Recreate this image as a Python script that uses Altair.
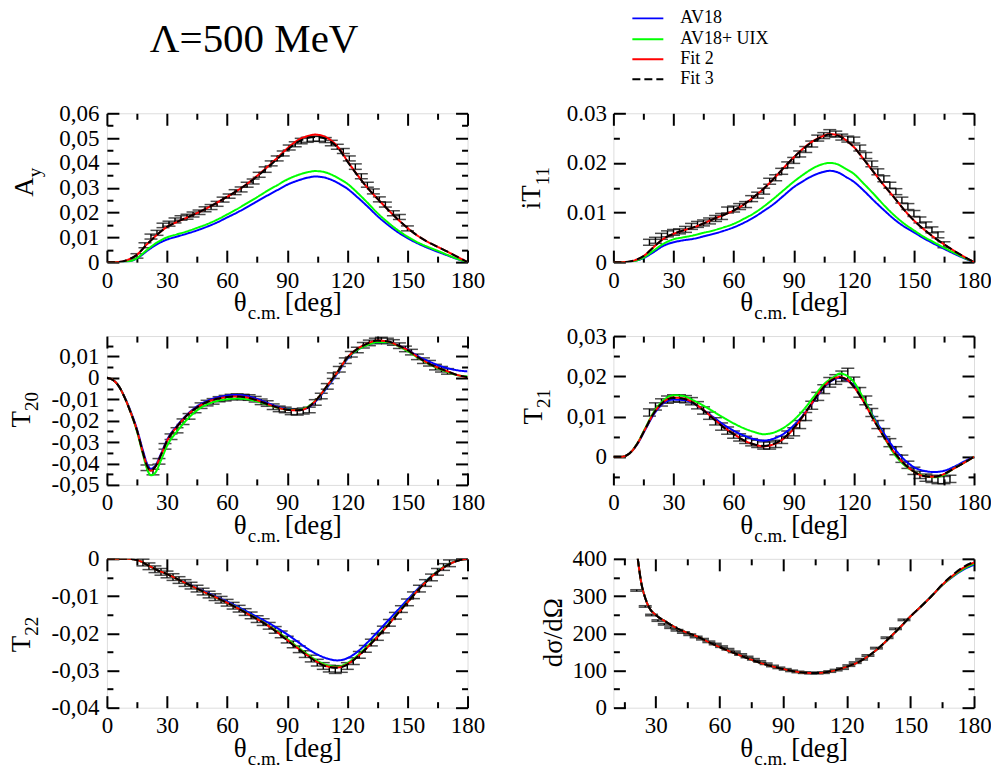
import altair as alt
import pandas as pd

FONT = "Liberation Serif, Times New Roman, Times, serif"
SERIES = ["AV18", "AV18+ UIX", "Fit 2", "Fit 3"]
COLORS = ["#0000ff", "#00ff00", "#ff0000", "#000000"]
DASHES = [[1, 0], [1, 0], [1, 0], [8, 4]]
LEGEND_Y = [-95, -74, -54, -34]
TITLE = "Λ=500 MeV"

# ---------------- A_y ----------------
AY_X = [0, 5, 10, 15, 20, 25, 30, 35, 40, 45, 50, 55, 60, 65, 70, 75, 80, 85, 90, 95,
        100, 104, 108, 112, 116, 120, 125, 130, 135, 140, 145, 150, 155, 160, 165, 170, 175, 180]
AY_AV18 = [0, 0, 0.0002, 0.0015, 0.0045, 0.0072, 0.0091, 0.0103, 0.0115, 0.0128, 0.0143, 0.016, 0.018, 0.02,
           0.0222, 0.0245, 0.0268, 0.029, 0.0312, 0.0328, 0.034, 0.0345, 0.0342, 0.0332, 0.0316, 0.0296, 0.0262,
           0.0225, 0.0186, 0.0152, 0.0122, 0.0097, 0.0076, 0.0058, 0.0042, 0.0027, 0.0012, 0]
AY_UIX = [0, 0, 0.0002, 0.0016, 0.0049, 0.0079, 0.0100, 0.0112, 0.0124, 0.0138, 0.0153, 0.0171, 0.0192, 0.0214,
          0.0238, 0.0262, 0.0287, 0.031, 0.0333, 0.035, 0.0362, 0.0367, 0.0364, 0.0353, 0.0336, 0.0316, 0.0280,
          0.0240, 0.0198, 0.0162, 0.0130, 0.0103, 0.0080, 0.0062, 0.0046, 0.0029, 0.0013, 0]
AY_FIT2 = [0, 0, 0.0008, 0.003, 0.0072, 0.011, 0.0142, 0.0162, 0.018, 0.0198, 0.0218, 0.024, 0.0263, 0.0288,
           0.0316, 0.0348, 0.0383, 0.042, 0.0458, 0.049, 0.0508, 0.0514, 0.0508, 0.049, 0.0457, 0.0408, 0.0352,
           0.0300, 0.0256, 0.0214, 0.0174, 0.0138, 0.0107, 0.0082, 0.0062, 0.0042, 0.0021, 0]
AY_FIT3 = [0, 0, 0.0008, 0.003, 0.0072, 0.011, 0.0142, 0.0162, 0.018, 0.0198, 0.0218, 0.024, 0.0263, 0.0288,
           0.0315, 0.0346, 0.038, 0.0416, 0.0452, 0.0483, 0.0500, 0.0504, 0.0500, 0.0484, 0.0454, 0.0406, 0.0351,
           0.0300, 0.0256, 0.0214, 0.0174, 0.0138, 0.0107, 0.0082, 0.0062, 0.0042, 0.0021, 0]
AY_DX = [15, 19, 22, 25, 28, 31, 34, 37, 40, 43, 46, 49, 52, 55, 58, 61, 64, 67, 70, 73, 76, 79, 82, 85, 88,
         91, 94, 97, 100, 103, 106, 109, 112, 115, 118, 121, 124, 127, 130, 133, 136, 139, 143, 146, 150]
AY_DY = [0.0025, 0.0068, 0.0103, 0.0118, 0.0148, 0.0155, 0.0168, 0.0178, 0.0183, 0.0192, 0.0201, 0.0213, 0.0222,
         0.0235, 0.0252, 0.0266, 0.0282, 0.0293, 0.0312, 0.0325, 0.0352, 0.0373, 0.0398, 0.0418, 0.0438, 0.0462,
         0.0475, 0.0488, 0.0493, 0.0497, 0.0497, 0.0492, 0.0480, 0.0465, 0.0448, 0.0418, 0.0385, 0.0346, 0.0312,
         0.0285, 0.0253, 0.0232, 0.0197, 0.0182, 0.0136]
AY_DE = [0.0009, 0.0010, 0.0010, 0.0010, 0.0009, 0.0010, 0.0010, 0.0009, 0.0010, 0.0010, 0.0009, 0.0010, 0.0010,
         0.0010, 0.0010, 0.0009, 0.0010, 0.0010, 0.0010, 0.0010, 0.0010, 0.0011, 0.0010, 0.0010, 0.0010, 0.0010,
         0.0010, 0.0011, 0.0010, 0.0010, 0.0010, 0.0010, 0.0011, 0.0010, 0.0010, 0.0010, 0.0011, 0.0010, 0.0010,
         0.0010, 0.0010, 0.0010, 0.0010, 0.0010, 0.0010]

# ---------------- iT11 ----------------
IT_X = AY_X
IT_AV18 = [0, 0, 0.0002, 0.0008, 0.002, 0.0033, 0.004, 0.0044, 0.0047, 0.0052, 0.0057, 0.0063, 0.007, 0.0079,
           0.009, 0.0103, 0.0117, 0.0134, 0.0151, 0.0164, 0.0175, 0.0181, 0.0184, 0.0181, 0.0172, 0.0162, 0.0144,
           0.0124, 0.0105, 0.0087, 0.0072, 0.006, 0.0048, 0.0037, 0.0027, 0.0017, 0.0008, 0]
IT_UIX = [0, 0, 0.0002, 0.0009, 0.0023, 0.0037, 0.0046, 0.005, 0.0054, 0.0059, 0.0064, 0.007, 0.0077, 0.0087,
          0.0098, 0.0112, 0.0128, 0.0145, 0.0162, 0.0177, 0.019, 0.0197, 0.02, 0.0197, 0.0188, 0.0178, 0.0158,
          0.0137, 0.0115, 0.0095, 0.0078, 0.0064, 0.0051, 0.004, 0.0029, 0.0019, 0.0009, 0]
IT_FIT2 = [0, 0, 0.0003, 0.0012, 0.003, 0.0047, 0.0057, 0.0064, 0.007, 0.0078, 0.0087, 0.0095, 0.0104, 0.0116,
           0.0131, 0.0148, 0.0168, 0.019, 0.0211, 0.023, 0.0245, 0.0253, 0.0258, 0.0256, 0.0246, 0.0232, 0.0207,
           0.0181, 0.0155, 0.0131, 0.0106, 0.0084, 0.0066, 0.005, 0.0036, 0.0023, 0.0011, 0]
IT_FIT3 = [0, 0, 0.0003, 0.0012, 0.003, 0.0047, 0.0057, 0.0064, 0.007, 0.0078, 0.0087, 0.0095, 0.0104, 0.0116,
           0.0131, 0.0148, 0.0168, 0.019, 0.0211, 0.0229, 0.0244, 0.0252, 0.0257, 0.0255, 0.0246, 0.0232, 0.0207,
           0.0181, 0.0155, 0.0131, 0.0106, 0.0084, 0.0066, 0.005, 0.0036, 0.0023, 0.0011, 0]
IT_DX = [18, 21, 24, 27, 30, 33, 36, 39, 42, 45, 48, 51, 54, 57, 60, 63, 66, 69, 72, 75, 78, 81, 84, 87, 90,
         93, 96, 99, 102, 105, 108, 111, 114, 117, 120, 123, 126, 129, 132, 135, 138, 141, 144, 147, 150, 153,
         156, 159, 162, 165]
IT_DY = [0.0040, 0.0044, 0.0052, 0.0057, 0.0060, 0.0062, 0.0066, 0.0072, 0.0076, 0.0079, 0.0083, 0.0088, 0.0092,
         0.0105, 0.0107, 0.0112, 0.0116, 0.0128, 0.0135, 0.0143, 0.0163, 0.0170, 0.0183, 0.0196, 0.0205, 0.0218,
         0.0227, 0.0238, 0.0250, 0.0255, 0.0260, 0.0258, 0.0252, 0.0248, 0.0246, 0.0230, 0.0215, 0.0198, 0.0182,
         0.0168, 0.0155, 0.0142, 0.0125, 0.0112, 0.0098, 0.0085, 0.0075, 0.0065, 0.0055, 0.0035]
IT_DE = [0.0006, 0.0006, 0.0006, 0.0006, 0.0006, 0.0005, 0.0006, 0.0006, 0.0006, 0.0006, 0.0006, 0.0006, 0.0006,
         0.0006, 0.0006, 0.0006, 0.0006, 0.0006, 0.0006, 0.0006, 0.0006, 0.0006, 0.0006, 0.0006, 0.0006, 0.0006,
         0.0006, 0.0006, 0.0006, 0.0006, 0.0007, 0.0006, 0.0006, 0.0006, 0.0006, 0.0006, 0.0006, 0.0006, 0.0006,
         0.0006, 0.0006, 0.0006, 0.0006, 0.0006, 0.0006, 0.0006, 0.0006, 0.0006, 0.0006, 0.0006]

# ---------------- T20 ----------------
T20_X = [0, 3, 6, 9, 12, 15, 18, 20, 22, 24, 27, 30, 35, 40, 45, 50, 55, 60, 65, 70, 75, 80, 85, 90, 95, 100,
         105, 110, 115, 120, 125, 130, 135, 140, 145, 150, 155, 160, 165, 170, 175, 180]
T20_AV18 = [0, -0.001, -0.004, -0.0093, -0.016, -0.024, -0.034, -0.04, -0.0425, -0.0412, -0.0355, -0.029, -0.0224,
            -0.0172, -0.0133, -0.0108, -0.0092, -0.0083, -0.008, -0.0085, -0.0099, -0.0117, -0.0134, -0.0146,
            -0.015, -0.0141, -0.0102, -0.0044, 0.002, 0.0088, 0.013, 0.0154, 0.0166, 0.0166, 0.0152, 0.0132,
            0.0102, 0.008, 0.006, 0.0045, 0.0035, 0.003]
T20_UIX = [0, -0.001, -0.004, -0.0095, -0.0165, -0.025, -0.0358, -0.0425, -0.0455, -0.0445, -0.0385, -0.0318,
           -0.025, -0.0195, -0.0152, -0.0124, -0.0108, -0.01, -0.0097, -0.01, -0.011, -0.0125, -0.0139, -0.0148,
           -0.015, -0.0137, -0.0098, -0.0038, 0.0025, 0.0092, 0.013, 0.0153, 0.0166, 0.0166, 0.015, 0.0125,
           0.0095, 0.0068, 0.0045, 0.0027, 0.0012, 0.0007]
T20_FIT2 = [0, -0.001, -0.004, -0.0095, -0.0165, -0.0245, -0.035, -0.041, -0.0434, -0.0418, -0.036, -0.0295,
            -0.0228, -0.0175, -0.0138, -0.0113, -0.0098, -0.009, -0.0087, -0.0092, -0.0105, -0.0122, -0.0138,
            -0.0149, -0.0152, -0.014, -0.0098, -0.0036, 0.0026, 0.0094, 0.0135, 0.016, 0.0174, 0.017, 0.0152,
            0.013, 0.0098, 0.007, 0.0048, 0.003, 0.0013, 0.0003]
T20_FIT3 = [0, -0.001, -0.004, -0.0095, -0.0165, -0.0245, -0.035, -0.041, -0.0433, -0.0417, -0.036, -0.0295,
            -0.0228, -0.0175, -0.0138, -0.0113, -0.0098, -0.009, -0.0087, -0.0092, -0.0105, -0.0122, -0.0138,
            -0.0149, -0.0152, -0.014, -0.0098, -0.0036, 0.0026, 0.0094, 0.0135, 0.016, 0.0174, 0.0171, 0.0153,
            0.013, 0.0098, 0.007, 0.0048, 0.003, 0.0013, 0.0003]
T20_DX = [20, 23, 26, 29, 32, 35, 38, 41, 44, 47, 50, 53, 56, 59, 62, 65, 68, 71, 74, 77, 80, 83, 86, 89, 92,
          95, 98, 101, 104, 107, 110, 113, 116, 119, 122, 125, 128, 131, 134, 137, 140, 143, 146, 149, 152, 155,
          158, 161, 164, 167, 170]
T20_DY = [-0.0420, -0.0440, -0.0390, -0.0320, -0.0275, -0.0245, -0.0205, -0.0180, -0.0150, -0.0130, -0.0118,
          -0.0110, -0.0100, -0.0095, -0.0090, -0.0088, -0.0090, -0.0092, -0.0100, -0.0112, -0.0120, -0.0135,
          -0.0145, -0.0150, -0.0158, -0.0160, -0.0155, -0.0150, -0.0115, -0.0085, -0.0040, 0.0010, 0.0040,
          0.0080, 0.0110, 0.0130, 0.0152, 0.0163, 0.0172, 0.0176, 0.0172, 0.0165, 0.0150, 0.0135, 0.0120,
          0.0098, 0.0080, 0.0068, 0.0050, 0.0040, 0.0030]
T20_DE = [0.0013, 0.0013, 0.0013, 0.0013, 0.0013, 0.0012, 0.0013, 0.0013, 0.0013, 0.0013, 0.0013, 0.0013, 0.0012,
          0.0013, 0.0013, 0.0013, 0.0013, 0.0013, 0.0013, 0.0013, 0.0013, 0.0013, 0.0013, 0.0013, 0.0014, 0.0014,
          0.0014, 0.0013, 0.0013, 0.0013, 0.0013, 0.0013, 0.0013, 0.0013, 0.0013, 0.0013, 0.0013, 0.0013, 0.0013,
          0.0013, 0.0013, 0.0013, 0.0013, 0.0013, 0.0013, 0.0013, 0.0013, 0.0013, 0.0013, 0.0013, 0.0013]

# ---------------- T21 ----------------
T21_X = [0, 4, 8, 12, 16, 20, 25, 30, 35, 40, 45, 50, 55, 60, 65, 70, 75, 80, 85, 90, 95, 100, 105, 110, 113,
         117, 120, 125, 130, 135, 140, 145, 150, 155, 160, 165, 170, 175, 180]
T21_AV18 = [0, 0, 0.0008, 0.0032, 0.0068, 0.0104, 0.0133, 0.0142, 0.0141, 0.0133, 0.0116, 0.0098, 0.008, 0.0065,
            0.0053, 0.0044, 0.004, 0.0045, 0.0057, 0.0078, 0.0105, 0.0138, 0.0172, 0.0192, 0.0196, 0.0189,
            0.0178, 0.0142, 0.0098, 0.0058, 0.0022, -0.0006, -0.0026, -0.0035, -0.0038, -0.0035, -0.0025,
            -0.0012, 0]
T21_UIX = [0, 0, 0.0008, 0.0034, 0.0072, 0.011, 0.014, 0.0153, 0.0151, 0.014, 0.0127, 0.0112, 0.0097, 0.0083,
           0.0071, 0.0062, 0.0056, 0.006, 0.0072, 0.0091, 0.0117, 0.0149, 0.018, 0.0198, 0.0207, 0.02, 0.0186,
           0.0143, 0.0095, 0.005, 0.0008, -0.002, -0.0037, -0.0047, -0.0051, -0.0045, -0.0029, -0.0015, 0]
T21_FIT2 = [0, 0, 0.0008, 0.0033, 0.007, 0.0107, 0.0136, 0.0147, 0.0145, 0.0134, 0.0116, 0.0095, 0.0074, 0.0057,
            0.0041, 0.0031, 0.0026, 0.0031, 0.0045, 0.007, 0.0103, 0.014, 0.0174, 0.0194, 0.0198, 0.019, 0.0174,
            0.0136, 0.0091, 0.005, 0.0012, -0.0017, -0.0037, -0.0048, -0.005, -0.0043, -0.0029, -0.0015, 0]
T21_FIT3 = [0, 0, 0.0008, 0.0033, 0.007, 0.0107, 0.0136, 0.0146, 0.0144, 0.0133, 0.0115, 0.0094, 0.0073, 0.0056,
            0.0041, 0.0031, 0.0027, 0.0032, 0.0046, 0.0071, 0.0104, 0.014, 0.0173, 0.0193, 0.0197, 0.019, 0.0174,
            0.0136, 0.0091, 0.005, 0.0012, -0.0017, -0.0037, -0.0048, -0.005, -0.0043, -0.0029, -0.0015, 0]
T21_DX = [18, 21, 24, 27, 30, 33, 36, 39, 42, 45, 48, 51, 54, 57, 60, 63, 66, 69, 72, 75, 78, 81, 84, 87, 90,
          93, 96, 99, 102, 105, 108, 111, 114, 117, 120, 123, 126, 129, 132, 135, 138, 141, 144, 147, 150, 153,
          156, 159, 162, 165, 168]
T21_DY = [0.0110, 0.0125, 0.0135, 0.0142, 0.0145, 0.0145, 0.0143, 0.0138, 0.0128, 0.0115, 0.0102, 0.0088, 0.0075,
          0.0065, 0.0055, 0.0048, 0.0042, 0.0036, 0.0032, 0.0028, 0.0028, 0.0032, 0.0042, 0.0055, 0.0062, 0.0080,
          0.0100, 0.0128, 0.0150, 0.0168, 0.0185, 0.0192, 0.0200, 0.0205, 0.0185, 0.0160, 0.0140, 0.0110, 0.0080,
          0.0060, 0.0035, 0.0015, -0.0005, -0.0020, -0.0035, -0.0045, -0.0052, -0.0055, -0.0058, -0.0058,
          -0.0055]
T21_DE = [0.0009, 0.0009, 0.0009, 0.0009, 0.0009, 0.0009, 0.0009, 0.0009, 0.0009, 0.0009, 0.0009, 0.0009, 0.0009,
          0.0009, 0.0009, 0.0009, 0.0009, 0.0009, 0.0009, 0.0009, 0.0009, 0.0009, 0.0009, 0.0009, 0.0010, 0.0010,
          0.0010, 0.0010, 0.0010, 0.0011, 0.0012, 0.0012, 0.0013, 0.0015, 0.0013, 0.0012, 0.0011, 0.0010, 0.0010,
          0.0010, 0.0010, 0.0010, 0.0009, 0.0009, 0.0009, 0.0009, 0.0009, 0.0009, 0.0009, 0.0009, 0.0009]

# ---------------- T22 ----------------
T22_X = [0, 5, 10, 15, 20, 25, 30, 35, 40, 45, 50, 55, 60, 65, 70, 75, 80, 85, 90, 95, 100, 105, 110, 115, 120,
         125, 130, 135, 140, 145, 150, 155, 160, 165, 170, 175, 180]
T22_AV18 = [0, 0, 0, -0.0003, -0.0016, -0.003, -0.0041, -0.0054, -0.0066, -0.0079, -0.0091, -0.0103, -0.0115,
            -0.0128, -0.0142, -0.0156, -0.017, -0.0186, -0.0203, -0.0222, -0.0241, -0.0257, -0.0268, -0.0273,
            -0.0267, -0.025, -0.0225, -0.0197, -0.0168, -0.0139, -0.011, -0.0082, -0.0056, -0.0034, -0.0016,
            -0.0005, 0]
T22_UIX = [0, 0, 0, -0.0003, -0.0016, -0.003, -0.0041, -0.0054, -0.0067, -0.008, -0.0093, -0.0105, -0.0118,
           -0.0131, -0.0146, -0.0161, -0.0177, -0.0195, -0.0215, -0.0236, -0.0256, -0.0274, -0.0286, -0.029,
           -0.028, -0.026, -0.0235, -0.0208, -0.0178, -0.0147, -0.0116, -0.0085, -0.0057, -0.0034, -0.0016,
           -0.0005, 0]
T22_FIT2 = [0, 0, 0, -0.0003, -0.0016, -0.003, -0.0041, -0.0054, -0.0067, -0.008, -0.0093, -0.0105, -0.0118,
            -0.0132, -0.0147, -0.0162, -0.0178, -0.0197, -0.0218, -0.0239, -0.0259, -0.0277, -0.0289, -0.0292,
            -0.0283, -0.0263, -0.0238, -0.021, -0.018, -0.0148, -0.0117, -0.0086, -0.0058, -0.0035, -0.0017,
            -0.0005, 0]
T22_FIT3 = [0, 0, 0, -0.0003, -0.0016, -0.003, -0.0041, -0.0054, -0.0067, -0.008, -0.0093, -0.0105, -0.0118,
            -0.0132, -0.0147, -0.0162, -0.0179, -0.0198, -0.0219, -0.024, -0.026, -0.0278, -0.029, -0.0293,
            -0.0284, -0.0264, -0.0238, -0.021, -0.018, -0.0148, -0.0117, -0.0086, -0.0058, -0.0035, -0.0017,
            -0.0005, 0]
T22_DX = [18, 21, 24, 27, 30, 33, 36, 39, 42, 45, 48, 51, 54, 57, 60, 63, 66, 69, 72, 75, 78, 81, 84, 87, 90,
          93, 96, 99, 102, 105, 108, 111, 114, 117, 120, 123, 126, 129, 132, 135, 138, 141, 144, 147, 150, 153,
          156, 159, 162, 165, 168, 171]
T22_DY = [-0.0010, -0.0020, -0.0028, -0.0035, -0.0042, -0.0049, -0.0057, -0.0065, -0.0072, -0.0080, -0.0088,
          -0.0096, -0.0103, -0.0110, -0.0118, -0.0126, -0.0134, -0.0143, -0.0152, -0.0162, -0.0170, -0.0180,
          -0.0191, -0.0203, -0.0217, -0.0230, -0.0243, -0.0256, -0.0268, -0.0279, -0.0288, -0.0295, -0.0298,
          -0.0296, -0.0288, -0.0275, -0.0258, -0.0242, -0.0225, -0.0210, -0.0190, -0.0172, -0.0153, -0.0135,
          -0.0117, -0.0098, -0.0080, -0.0065, -0.0050, -0.0035, -0.0022, -0.0012]
T22_DE = [0.0009, 0.0009, 0.0009, 0.0009, 0.0009, 0.0009, 0.0009, 0.0009, 0.0009, 0.0009, 0.0009, 0.0009, 0.0009,
          0.0009, 0.0009, 0.0009, 0.0009, 0.0009, 0.0009, 0.0009, 0.0009, 0.0009, 0.0009, 0.0009, 0.0009, 0.0009,
          0.0009, 0.0009, 0.0009, 0.0009, 0.0009, 0.0009, 0.0010, 0.0009, 0.0009, 0.0009, 0.0009, 0.0009, 0.0009,
          0.0009, 0.0009, 0.0009, 0.0009, 0.0009, 0.0009, 0.0009, 0.0009, 0.0009, 0.0009, 0.0009, 0.0009, 0.0009]

# ---------------- dsigma/dOmega ----------------
DS_X = [18, 20, 21.5, 23, 25, 27, 30, 35, 40, 45, 50, 55, 60, 65, 70, 75, 80, 85, 90, 95, 100, 105, 110, 115,
        120, 125, 130, 135, 140, 145, 150, 155, 160, 165, 170, 175, 180]
DS_AV18 = [560, 460, 400, 340, 295, 268, 249, 230, 213, 201, 190, 176, 163, 151, 140, 129, 119, 111, 104, 98,
           94, 93, 95, 101, 110, 121, 138, 160, 187, 215, 245, 272, 300, 329, 352, 371, 384]
DS_UIX = [560, 460, 400, 340, 295, 268, 249, 230, 213, 201, 190, 176, 163, 151, 140, 129, 119, 111, 104, 98,
          94, 93, 95, 101, 110, 121, 138, 160, 187, 215, 245, 272, 300, 329, 353, 373, 387]
DS_FIT2 = [560, 460, 400, 340, 295, 268, 249, 230, 213, 201, 190, 176, 163, 151, 140, 129, 119, 111, 104, 98,
           94, 93, 95, 101, 110, 121, 138, 160, 187, 215, 245, 272, 300, 330, 355, 376, 390]
DS_FIT3 = [560, 460, 400, 340, 295, 268, 249, 230, 213, 201, 190, 176, 163, 151, 140, 129, 119, 111, 104, 98,
           94, 93, 95, 101, 110, 121, 138, 160, 187, 215, 245, 272, 300, 331, 357, 378, 392]
DS_DX = [21, 25, 28, 31, 34, 37, 40, 43, 46, 49, 52, 55, 58, 61, 64, 67, 70, 73, 76, 79, 82, 85, 88, 91, 94,
         97, 100, 103, 106, 109, 112, 115, 118, 121, 124, 127, 130, 134, 139, 143, 147]
DS_DY = [315, 272, 249, 234, 224, 215, 208, 202, 196, 190, 184, 177, 171, 164, 157, 150, 143, 136, 130, 124,
         118, 112, 107, 103, 99, 96, 94, 93, 93, 94, 97, 101, 105, 113, 121, 130, 140, 160, 188, 212, 236]
DS_DE = [2, 2, 2, 2, 2, 2, 2, 2, 2, 2, 2, 2, 2, 2, 2, 2, 2, 2, 2, 2, 2, 2, 2, 2, 2, 2, 2, 2, 2, 2, 2, 2, 2, 2,
         2, 2, 2, 2, 2, 2, 2]

# ---------------- axes ----------------
X_MAJ = [0, 30, 60, 90, 120, 150, 180]
X_MIN = [15, 45, 75, 105, 135, 165]
X_MAJ_DS = [30, 60, 90, 120, 150, 180]

COMMA = "abs(datum.value) < 1e-9 ? '0' : replace(replace(format(datum.value, '.2f'), '.', ','), '\u2212', '-')"
DOT = "abs(datum.value) < 1e-9 ? '0' : format(datum.value, '.2f')"

PANELS = [
    dict(x=AY_X, curves=[AY_AV18, AY_UIX, AY_FIT2, AY_FIT3], dx=AY_DX, dy=AY_DY, de=AY_DE,
         xdom=[0, 180], ydom=[0, 0.06], xmaj=X_MAJ, xmin=X_MIN,
         ymaj=[0, 0.01, 0.02, 0.03, 0.04, 0.05, 0.06],
         ymin=[0.005, 0.015, 0.025, 0.035, 0.045, 0.055], lexpr=COMMA, ypad=8,
         ytitle=("A", "y", -74, -66, 64)),
    dict(x=IT_X, curves=[IT_AV18, IT_UIX, IT_FIT2, IT_FIT3], dx=IT_DX, dy=IT_DY, de=IT_DE,
         xdom=[0, 180], ydom=[0, 0.03], xmaj=X_MAJ, xmin=X_MIN,
         ymaj=[0, 0.01, 0.02, 0.03], ymin=[0.005, 0.015, 0.025], lexpr=DOT, ypad=7,
         ytitle=("iT", "11", -73, -64, 72)),
    dict(x=T20_X, curves=[T20_AV18, T20_UIX, T20_FIT2, T20_FIT3], dx=T20_DX, dy=T20_DY, de=T20_DE,
         xdom=[0, 180], ydom=[-0.05, 0.0195], xmaj=X_MAJ, xmin=X_MIN,
         ymaj=[-0.05, -0.04, -0.03, -0.02, -0.01, 0, 0.01],
         ymin=[-0.045, -0.035, -0.025, -0.015, -0.005, 0.005, 0.015], lexpr=COMMA, ypad=8,
         ytitle=("T", "20", -77, -69, 75)),
    dict(x=T21_X, curves=[T21_AV18, T21_UIX, T21_FIT2, T21_FIT3], dx=T21_DX, dy=T21_DY, de=T21_DE,
         xdom=[0, 180], ydom=[-0.007, 0.03], xmaj=X_MAJ, xmin=X_MIN,
         ymaj=[0, 0.01, 0.02, 0.03], ymin=[-0.005, 0.005, 0.015, 0.025], lexpr=COMMA, ypad=7,
         ytitle=("T", "21", -71, -63, 72)),
    dict(x=T22_X, curves=[T22_AV18, T22_UIX, T22_FIT2, T22_FIT3], dx=T22_DX, dy=T22_DY, de=T22_DE,
         xdom=[0, 180], ydom=[-0.04, 0], xmaj=X_MAJ, xmin=X_MIN,
         ymaj=[-0.04, -0.03, -0.02, -0.01, 0], ymin=[-0.035, -0.025, -0.015, -0.005], lexpr=COMMA, ypad=8,
         ytitle=("T", "22", -77, -69, 77)),
    dict(x=DS_X, curves=[DS_AV18, DS_UIX, DS_FIT2, DS_FIT3], dx=DS_DX, dy=DS_DY, de=DS_DE,
         xdom=[10, 180], ydom=[0, 400], xmaj=X_MAJ_DS, xmin=X_MIN,
         ymaj=[0, 100, 200, 300, 400], ymin=[50, 150, 250, 350], lexpr=None, ypad=7,
         ytitle=("dσ/dΩ", None, -51, None, 74)),
]

W, H = 361, 149


def text_layer(txt, x, y, size, align="left", baseline="alphabetic", angle=0):
    kw = dict(font=FONT, fontSize=size, align=align, baseline=baseline, color="black")
    if angle:
        kw["angle"] = angle
    return alt.Chart(pd.DataFrame({"t": [txt]})).mark_text(**kw).encode(
        text="t:N", x=alt.value(x), y=alt.value(y))


def tick_axis(orient, values, size):
    return alt.Axis(orient=orient, values=values, tickSize={"expr": str(-size)}, tickColor="black",
                    tickWidth=2, labels=False, domain=False, grid=False, title=None, ticks=True)


def build_panel(i, cfg):
    xs = alt.Scale(domain=cfg["xdom"], nice=False, zero=False)
    ys = alt.Scale(domain=cfg["ydom"], nice=False, zero=False)
    rows = []
    for s, arr in zip(SERIES, cfg["curves"]):
        for xv, yv in zip(cfg["x"], arr):
            rows.append({"x": xv, "v": yv, "series": s})
    cdf = pd.DataFrame(rows)
    ddf = pd.DataFrame({"x": cfg["dx"], "y": cfg["dy"], "e": cfg["de"]})
    ddf["lo"] = ddf["y"] - ddf["e"]
    ddf["hi"] = ddf["y"] + ddf["e"]

    layers = []
    layers.append(alt.Chart(ddf).mark_rule(color="black", strokeWidth=1.4).encode(
        x=alt.X("x:Q", scale=xs, axis=None), y=alt.Y("lo:Q", scale=ys, axis=None), y2="hi:Q"))
    for f in ["lo", "hi"]:
        layers.append(alt.Chart(ddf).mark_tick(color="black", orient="horizontal", size=13, thickness=1.5).encode(
            x=alt.X("x:Q", scale=xs, axis=None), y=alt.Y(f + ":Q", scale=ys, axis=None)))
    for s, c, d in zip(SERIES, COLORS, DASHES):
        layers.append(alt.Chart(cdf).transform_filter(alt.datum.series == s).mark_line(
            color=c, strokeWidth=2, strokeDash=d, clip=True, interpolate="monotone").encode(
            x=alt.X("x:Q", scale=xs, axis=None), y=alt.Y("v:Q", scale=ys, axis=None)))

    def axlayer(xa, ya):
        return alt.Chart(cdf).mark_point(opacity=0, clip=True).encode(
            x=alt.X("x:Q", scale=xs, axis=xa), y=alt.Y("v:Q", scale=ys, axis=ya))

    xlab = alt.Axis(orient="bottom", values=cfg["xmaj"], ticks=False, domain=False, grid=False, title=None,
                    labelFont=FONT, labelFontSize=23, labelColor="black", labelPadding=25,
                    labelBaseline="alphabetic", labelFlush=False, labelOverlap=False)
    ykw = dict(orient="left", values=cfg["ymaj"], ticks=False, domain=False, grid=False, title=None,
               labelFont=FONT, labelFontSize=23, labelColor="black", labelPadding=cfg["ypad"],
               labelFlush=False, labelOverlap=False)
    if cfg["lexpr"]:
        ykw["labelExpr"] = cfg["lexpr"]
    ylab = alt.Axis(**ykw)
    layers.append(axlayer(xlab, ylab))
    layers.append(axlayer(tick_axis("bottom", cfg["xmaj"], 12), tick_axis("left", cfg["ymaj"], 12)))
    layers.append(axlayer(tick_axis("top", cfg["xmaj"], 12), tick_axis("right", cfg["ymaj"], 12)))
    layers.append(axlayer(tick_axis("bottom", cfg["xmin"], 6), tick_axis("left", cfg["ymin"], 6)))
    layers.append(axlayer(tick_axis("top", cfg["xmin"], 6), tick_axis("right", cfg["ymin"], 6)))

    # y title (rotated, with subscript)
    main, sub, xm, xsb, ya = cfg["ytitle"]
    if sub is None:
        layers.append(text_layer(main, xm, ya, 27, align="center", angle=270))
    else:
        layers.append(text_layer(main, xm, ya, 27, align="right", angle=270))
        layers.append(text_layer(sub, xsb, ya, 19, align="left", angle=270))
    # x title
    layers.append(text_layer("θ", 127, H + 49, 27))
    layers.append(text_layer("c.m.", 141, H + 57, 19))
    layers.append(text_layer("[deg]", 178, H + 49, 27))

    if i == 0:
        layers.append(text_layer(TITLE, 43, -61, 41))
    if i == 1:
        for s, c, d, ly in zip(SERIES, COLORS, DASHES, LEGEND_Y):
            layers.append(alt.Chart(pd.DataFrame({"t": [s]})).mark_rule(
                color=c, strokeWidth=2, strokeDash=d).encode(
                x=alt.value(19), x2=alt.value(50), y=alt.value(ly)))
            layers.append(text_layer(s, 67, ly, 18, baseline="middle"))

    return alt.layer(*layers).resolve_axis(x="independent", y="independent").properties(width=W, height=H)


panels = [build_panel(i, cfg) for i, cfg in enumerate(PANELS)]

chart = alt.concat(*panels, columns=2, spacing={"row": 74, "column": 146}).properties(
    bounds="flush",
    padding={"left": 99, "top": 105, "right": 885, "bottom": 654},
    autosize=alt.AutoSizeParams(type="none"),
).configure_view(stroke="black", strokeWidth=2).configure(font=FONT)

chart.save("out.html", embed_options={"renderer": "svg", "actions": False})
